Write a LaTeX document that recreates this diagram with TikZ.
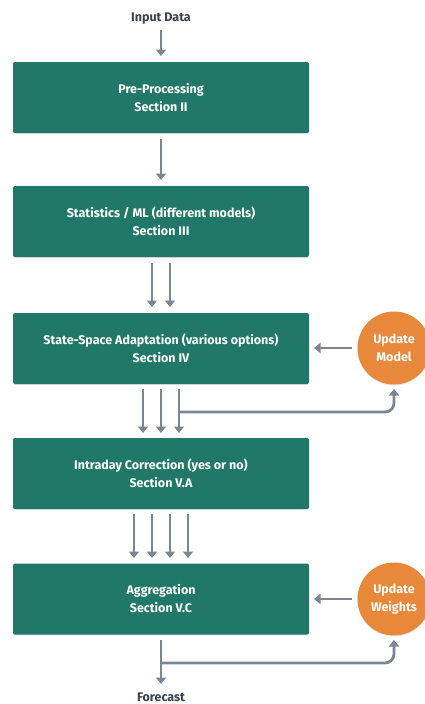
\documentclass[tikz,border=0pt]{standalone}
\usepackage{fontspec}
\setmainfont{Fira Sans}
\usetikzlibrary{arrows.meta,shadows}
\definecolor{boxgreen}{RGB}{33,120,104}
\definecolor{updorange}{RGB}{232,136,58}
\definecolor{arrgray}{RGB}{122,135,147}
\definecolor{txtgray}{RGB}{58,63,74}
\begin{document}
\begin{tikzpicture}[x=1pt,y=-1pt,
  stepbox/.style={draw=none,fill=boxgreen,rounded corners=2pt,minimum width=296pt,minimum height=71pt,
    text=white,font=\fontsize{12.5}{18}\selectfont\bfseries,align=center,inner sep=0pt,
    drop shadow={shadow xshift=0pt,shadow yshift=-1pt,opacity=0.25,fill=black!40}},
  updcircle/.style={circle,fill=updorange,minimum size=73pt,inner sep=0pt,text=white,
    font=\fontsize{12.5}{17.5}\selectfont\bfseries,align=center,
    drop shadow={shadow xshift=0pt,shadow yshift=-1pt,opacity=0.25,fill=black!40}},
  lbl/.style={text=txtgray,font=\fontsize{12.5}{14}\selectfont\bfseries,inner sep=0pt,anchor=base},
  arr/.style={draw=arrgray,line width=2.8pt,-{Triangle[width=10pt,length=6.5pt]}},
  fb/.style={draw=arrgray,line width=2.8pt,rounded corners=9pt,-{Triangle[width=10pt,length=6.5pt]}}]
\useasboundingbox (0,0) rectangle (425,704);
\node[lbl] (in) at (161,21) {Input Data};
\node[stepbox] (b1) at (161,97.5) {Pre-Processing\\Section II};
\node[stepbox] (b2) at (161,221.5) {Statistics / ML (different models)\\Section III};
\node[stepbox] (b3) at (161,348.5) {State-Space Adaptation (various options)\\Section IV};
\node[stepbox] (b4) at (161,473.5) {Intraday Correction (yes or no)\\Section V.A};
\node[stepbox] (b5) at (161,599) {Aggregation\\Section V.C};
\node[updcircle] (um) at (394,348) {Update\\Model};
\node[updcircle] (uw) at (394,599) {Update\\Weights};
\node[lbl] (out) at (161,701) {Forecast};
\coordinate (oend) at (161,684);
% input
\draw[arr] (161,30) -- (161,56);
% b1 -> b2
\draw[arr] (161,139) -- (161,180);
% b2 -> b3
\foreach \x in {152,170}{\draw[arr] (\x,263) -- (\x,307);}
% b3 -> b4
\foreach \x in {143,161,179}{\draw[arr] (\x,389) -- (\x,433);}
\draw[fb] (179,412) -- (394,412) -- (394,389);
% b4 -> b5
\foreach \x in {134,152,170,188}{\draw[arr] (\x,514) -- (\x,558);}
% update arrows
\draw[arr] (um.west) ++(-5,0) -- (314,348);
\draw[arr] (uw.west) ++(-5,0) -- (314,599);
% output
\draw[arr] (161,640) -- (oend);
\draw[fb] (161,663) -- (394,663) -- (394,640);
\end{tikzpicture}
\end{document}
